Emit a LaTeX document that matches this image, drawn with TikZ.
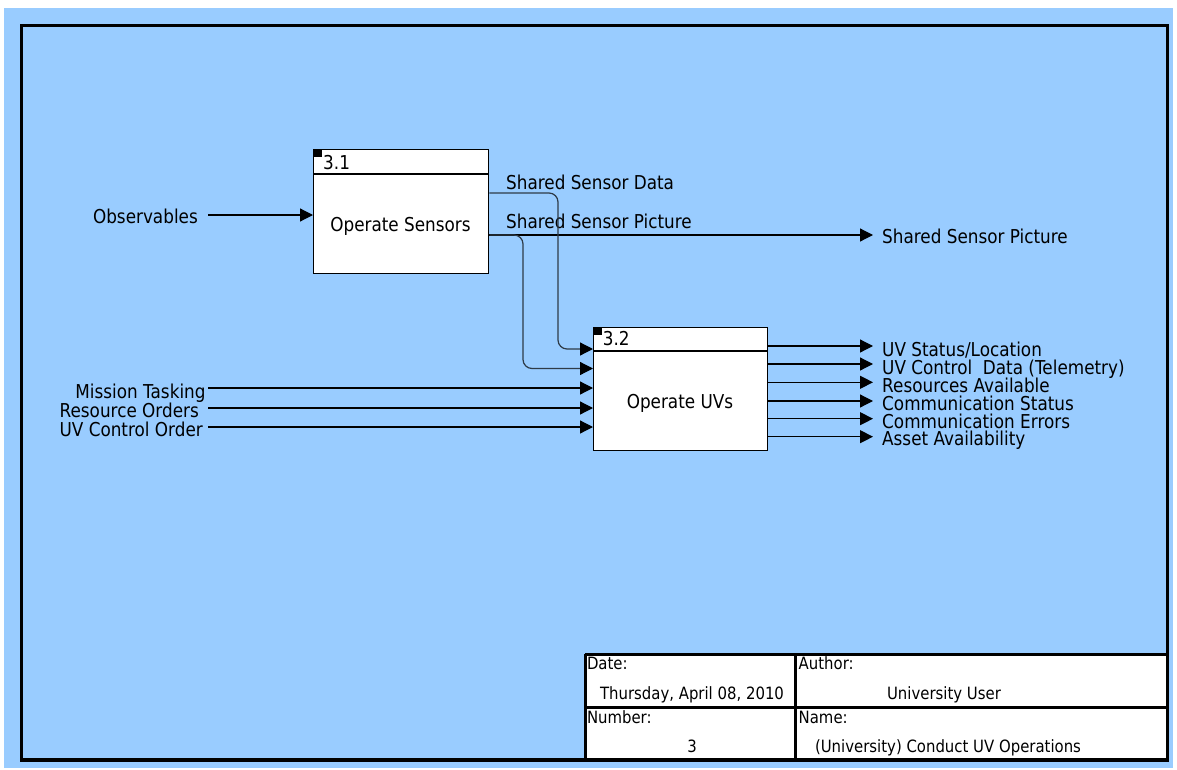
\documentclass[tikz,border=0pt]{standalone}
\usepackage{fontspec}
\setmainfont{DejaVu Sans}[FakeStretch=0.88]
\usetikzlibrary{arrows.meta}
\definecolor{bgblue}{HTML}{99CCFF}
\definecolor{linkgrey}{HTML}{2E3B48}
\begin{document}
\begin{tikzpicture}[x=1bp,y=-1bp,
  txt/.style={font=\fontsize{19.2}{22}\selectfont, inner sep=0pt},
  tbl/.style={font=\fontsize{17}{20}\selectfont, inner sep=0pt},
  actbox/.style={draw=black, fill=white, line width=1.3bp, inner sep=0pt, anchor=north west},
  hdr/.style={draw=black, line width=1.3bp},
  tag/.style={fill=black, inner sep=0pt, minimum width=9bp, minimum height=8bp, anchor=north west},
  flow/.style={draw=black, line width=1.2bp, -{Triangle[length=13bp,width=13bp,color=black]}},
  bendflow/.style={flow, draw=linkgrey, rounded corners=9bp},
  frameline/.style={draw=black, line width=3.5bp},
  gridline/.style={draw=black, line width=3bp}]

\useasboundingbox (0,0) rectangle (1177,770);
\fill[white] (0,0) rectangle (1177,770);
\fill[bgblue] (4,8) rectangle (1173,768);
\draw[frameline] (21.3,25.3) rectangle (1167.5,760);

% activity 3.1
\node[actbox, minimum width=175bp, minimum height=124bp] (b31) at (313,149) {};
\draw[hdr] (b31.west |- 0,174) -- (b31.east |- 0,174);
\node[tag] (t31) at (b31.north west) {};
\node[txt, anchor=base west] (n31) at (323,169.3) {3.1};
\node[txt, anchor=base] (l31) at (400.5,231) {Operate Sensors};

% activity 3.2
\node[actbox, minimum width=174bp, minimum height=123bp] (b32) at (593,327) {};
\draw[hdr] (b32.west |- 0,351) -- (b32.east |- 0,351);
\node[tag] (t32) at (b32.north west) {};
\node[txt, anchor=base west] (n32) at (602.7,345.7) {3.2};
\node[txt, anchor=base] (l32) at (680,408.3) {Operate UVs};

% input to 3.1
\node[txt, anchor=base east] (obs) at (198,223.3) {Observables};
\coordinate (obsS) at (208,215);
\draw[flow] (obsS) -- (b31.west |- obsS);

% inputs to 3.2
\node[txt, anchor=base east] (mt) at (205.7,398.3) {Mission Tasking};
\node[txt, anchor=base east] (ro) at (199,417.3) {Resource Orders};
\node[txt, anchor=base east] (uco) at (203,436.7) {UV Control Order};
\coordinate (mtS) at (208,388);
\coordinate (roS) at (208,408);
\coordinate (ucoS) at (208,427);
\draw[flow] (mtS) -- (b32.west |- mtS);
\draw[flow] (roS) -- (b32.west |- roS);
\draw[flow] (ucoS) -- (b32.west |- ucoS);

% 3.1 outputs
\node[txt, anchor=base west] (ssdL) at (506,189.3) {Shared Sensor Data};
\node[txt, anchor=base west] (sspL) at (506,228.3) {Shared Sensor Picture};
\node[txt, anchor=base west] (sspR) at (882,243) {Shared Sensor Picture};
\draw[flow, shorten >=9bp] (b31.east |- 0,235) -- (sspR.west |- 0,235);
\draw[bendflow] (b31.east |- 0,193) -- (558,193) -- (558,349) -- (b32.west |- 0,349);
\draw[bendflow] (b31.east |- 0,235) -- (523,235) -- (523,368.5) -- (b32.west |- 0,368.5);

% 3.2 outputs
\node[txt, anchor=base west] (o1) at (882,356.5) {UV Status/Location};
\node[txt, anchor=base west] (o2) at (882,374.5) {UV Control~ Data (Telemetry)};
\node[txt, anchor=base west] (o3) at (882,392.5) {Resources Available};
\node[txt, anchor=base west] (o4) at (882,410.3) {Communication Status};
\node[txt, anchor=base west] (o5) at (882,428) {Communication Errors};
\node[txt, anchor=base west] (o6) at (882,445.5) {Asset Availability};
\draw[flow, shorten >=9bp] (b32.east |- 0,346) -- (o1.west |- 0,346);
\draw[flow, shorten >=9bp] (b32.east |- 0,364) -- (o2.west |- 0,364);
\draw[flow, shorten >=9bp] (b32.east |- 0,382.3) -- (o3.west |- 0,382.3);
\draw[flow, shorten >=9bp] (b32.east |- 0,401) -- (o4.west |- 0,401);
\draw[flow, shorten >=9bp] (b32.east |- 0,418.7) -- (o5.west |- 0,418.7);
\draw[flow, shorten >=9bp] (b32.east |- 0,436.7) -- (o6.west |- 0,436.7);

% title block
\fill[white] (585.3,654.3) rectangle (1167.5,760);
\draw[gridline] (585.3,654.3) -- (1167.5,654.3);
\draw[gridline] (585.3,654.3) -- (585.3,760);
\draw[gridline] (585.3,707) -- (1167.5,707);
\draw[gridline] (795,654.3) -- (795,760);
\draw[frameline] (21.3,25.3) rectangle (1167.5,760);
\node[tbl, anchor=base west] (dateL) at (586.8,669.3) {Date:};
\node[tbl, anchor=base] (dateV) at (692,699.3) {Thursday, April 08, 2010};
\node[tbl, anchor=base west] (authL) at (798.5,669.3) {Author:};
\node[tbl, anchor=base] (authV) at (944,699.3) {University User};
\node[tbl, anchor=base west] (numL) at (586.8,723.3) {Number:};
\node[tbl, anchor=base] (numV) at (692,752.3) {3};
\node[tbl, anchor=base west] (nameL) at (798.5,723.3) {Name:};
\node[tbl, anchor=base] (nameV) at (948,752.3) {(University) Conduct UV Operations};
\end{tikzpicture}
\end{document}
